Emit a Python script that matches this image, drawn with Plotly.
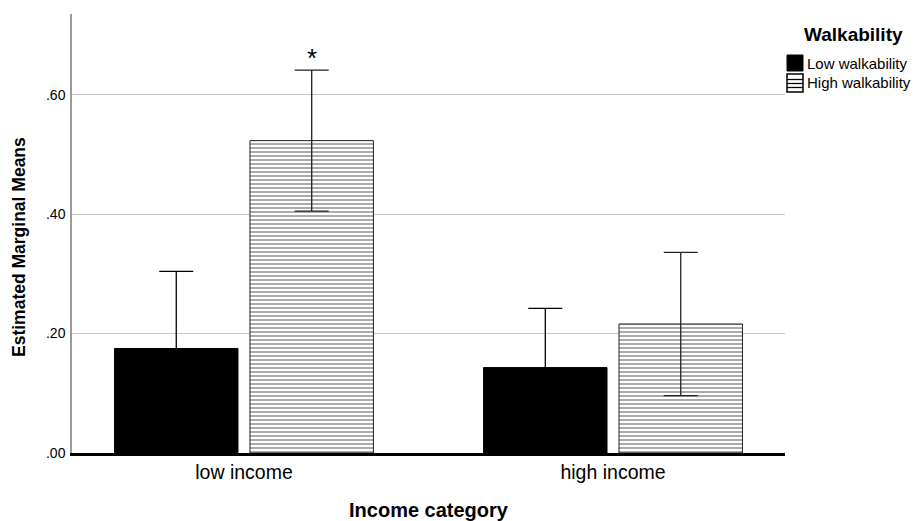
import plotly.graph_objects as go

# Estimated marginal means by income category and walkability
income = ["low income", "high income"]
low_walk_mean = [0.175, 0.143]
low_walk_err = [0.129, 0.099]
high_walk_mean = [0.523, 0.216]
high_walk_err = [0.118, 0.120]
y_ticks = [0.0, 0.2, 0.4, 0.6]
y_tick_labels = [".00", ".20", ".40", ".60"]
y_title = "Estimated Marginal Means"
x_title = "Income category"
legend_title = "Walkability"
legend_labels = ["Low walkability", "High walkability"]

FONT = "Liberation Sans, Arial, sans-serif"
BARGAP = 0.266
BARGROUPGAP = 0.0886
W, H = 921, 521
ML, MR, MT, MB = 72, 136, 14, 68
PW, PH = W - ML - MR, H - MT - MB

hatch = dict(shape="-", fgcolor="#444444", bgcolor="white", size=4, solidity=0.45)

fig = go.Figure()

fig.add_trace(go.Bar(
    name=legend_labels[0],
    x=income, y=low_walk_mean,
    marker=dict(color="black", line=dict(color="black", width=1)),
    error_y=dict(type="data", array=low_walk_err, symmetric=True,
                 color="black", thickness=1.3, width=17),
    showlegend=False,
))

fig.add_trace(go.Bar(
    name=legend_labels[1],
    x=income, y=high_walk_mean,
    marker=dict(color="white", line=dict(color="#222222", width=1), pattern=hatch),
    error_y=dict(type="data", array=high_walk_err, symmetric=True,
                 color="#222222", thickness=1.3, width=17),
    showlegend=False,
))

# significance marker above the high-walkability bar in the low income group
slot = (1 - BARGAP) / 2
fig.add_annotation(
    x=0 + slot / 2, y=high_walk_mean[0] + high_walk_err[0],
    xref="x", yref="y", text="*", showarrow=False,
    yanchor="bottom", yshift=-5,
    font=dict(family=FONT, size=26, color="black"),
)

# pixel helpers: paper coordinates are relative to the plotting domain
def px_x(px):
    return (px - ML) / PW

def px_y(py):
    return (H - MB - py) / PH

# y-axis title, sitting a little below the vertical centre of the axis
fig.add_annotation(
    x=px_x(19), y=px_y(247), xref="paper", yref="paper",
    text=f"<b>{y_title}</b>", showarrow=False, textangle=-90,
    xanchor="center", yanchor="middle",
    font=dict(family=FONT, size=17.5, color="black"),
)

# legend to the right of the plot area
fig.add_annotation(
    x=px_x(802), y=px_y(35), xref="paper", yref="paper",
    text=f"<b>{legend_title}</b>", showarrow=False,
    xanchor="left", yanchor="middle",
    font=dict(family=FONT, size=19, color="black"),
)

sq_x0, sq_x1 = 787, 803
rows = [(55, 71), (74, 92)]
# low walkability: solid black square
fig.add_shape(type="rect", xref="paper", yref="paper",
              x0=px_x(sq_x0), x1=px_x(sq_x1),
              y0=px_y(rows[0][1]), y1=px_y(rows[0][0]),
              fillcolor="black", line=dict(color="black", width=1))
# high walkability: white square with horizontal stripes
fig.add_shape(type="rect", xref="paper", yref="paper",
              x0=px_x(sq_x0), x1=px_x(sq_x1),
              y0=px_y(rows[1][1]), y1=px_y(rows[1][0]),
              fillcolor="white", line=dict(color="black", width=1.5))
for sy in (79.5, 83.5, 87.5):
    fig.add_shape(type="line", xref="paper", yref="paper",
                  x0=px_x(sq_x0), x1=px_x(sq_x1), y0=px_y(sy), y1=px_y(sy),
                  line=dict(color="black", width=1.3))

for (r0, r1), label in zip(rows, legend_labels):
    fig.add_annotation(
        x=px_x(805), y=px_y((r0 + r1) / 2), xref="paper", yref="paper",
        text=label, showarrow=False, xanchor="left", yanchor="middle",
        font=dict(family=FONT, size=15, color="black"),
    )

fig.update_layout(
    width=W, height=H,
    margin=dict(l=ML, r=MR, t=MT, b=MB, autoexpand=False),
    paper_bgcolor="white", plot_bgcolor="white",
    barmode="group", bargap=BARGAP, bargroupgap=BARGROUPGAP,
    font=dict(family=FONT, color="black"),
    showlegend=False,
    xaxis=dict(
        range=[-0.466, 1.466],
        showline=True, linecolor="black", linewidth=3,
        ticks="", showgrid=False,
        tickfont=dict(size=19.5, family=FONT),
        title=dict(text=f"<b>{x_title}</b>", font=dict(size=20, family=FONT),
                   standoff=26),
    ),
    yaxis=dict(
        range=[0, 0.735],
        tickvals=y_ticks, ticktext=y_tick_labels,
        showline=True, linecolor="#9a9a9a", linewidth=1.5,
        showgrid=True, gridcolor="#c8c8c8", gridwidth=1,
        zeroline=False, ticks="", ticklabelstandoff=2,
        tickfont=dict(size=14, family=FONT),
    ),
)

fig.write_html("out.html")
